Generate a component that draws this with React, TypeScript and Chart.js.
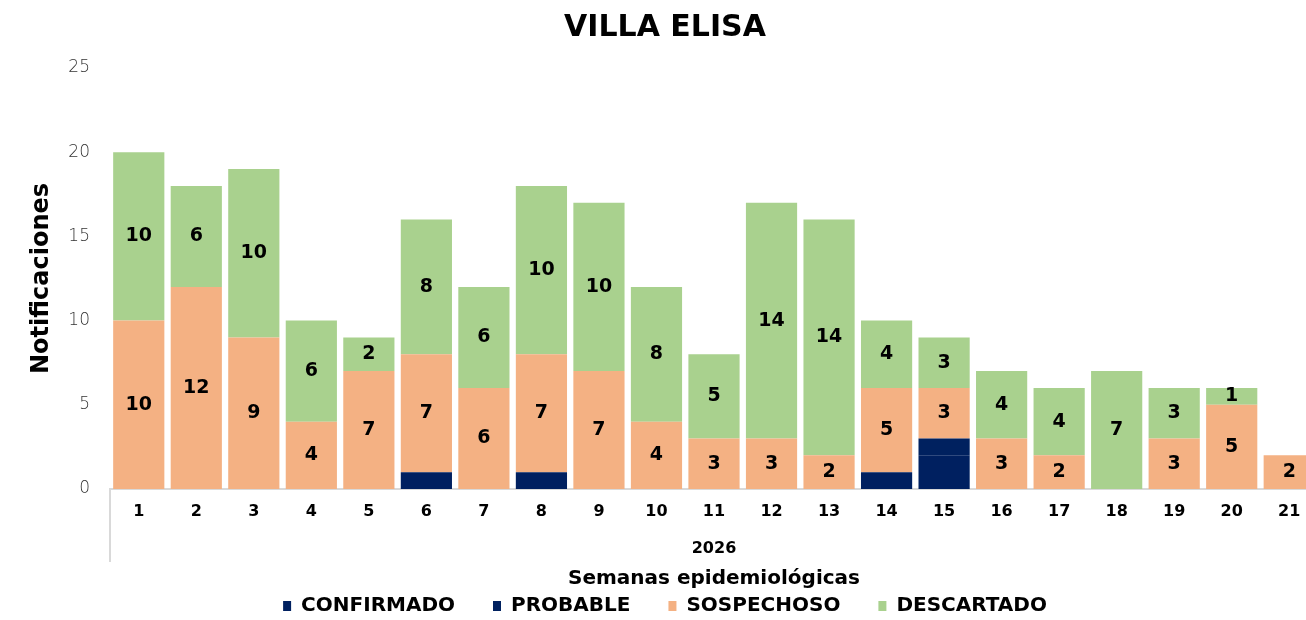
import React, { useEffect, useRef } from 'react';
import { Chart, registerables } from 'chart.js';

Chart.register(...registerables);

const FONT = '"DejaVu Sans", "Open Sans", sans-serif';

const weeks = ['1', '2', '3', '4', '5', '6', '7', '8', '9', '10', '11', '12', '13', '14', '15', '16', '17', '18', '19', '20', '21'];
const yearLabels = ['2026'];
const confirmado = [0, 0, 0, 0, 0, 1, 0, 1, 0, 0, 0, 0, 0, 1, 2, 0, 0, 0, 0, 0, 0];
const probable = [0, 0, 0, 0, 0, 0, 0, 0, 0, 0, 0, 0, 0, 0, 1, 0, 0, 0, 0, 0, 0];
const sospechoso = [10, 12, 9, 4, 7, 7, 6, 7, 7, 4, 3, 3, 2, 5, 3, 3, 2, 0, 3, 5, 2];
const descartado = [10, 6, 10, 6, 2, 8, 6, 10, 10, 8, 5, 14, 14, 4, 3, 4, 4, 7, 3, 1, 0];
const yMax = 25;
const yStep = 5;

const segLabels = {
  id: 'segLabels',
  afterDatasetsDraw(chart: any) {
    const ctx = chart.ctx;
    ctx.save();
    ctx.font = `bold 19px ${FONT}`;
    ctx.fillStyle = '#000';
    ctx.textAlign = 'center';
    ctx.textBaseline = 'middle';
    [2, 3].forEach((di) => {
      const meta = chart.getDatasetMeta(di);
      meta.data.forEach((el: any, i: number) => {
        const v = chart.data.datasets[di].data[i];
        if (!v) return;
        const p = el.getProps(['x', 'y', 'base'], true);
        ctx.fillText(String(v), p.x, (p.y + p.base) / 2);
      });
    });
    ctx.restore();
  },
};

const divider = {
  id: 'divider',
  afterDraw(chart: any) {
    const { ctx, chartArea, scales } = chart;
    const x2 = scales.x2;
    ctx.save();
    ctx.strokeStyle = '#d9d9d9';
    ctx.lineWidth = 2;
    ctx.beginPath();
    ctx.moveTo(chartArea.left, chartArea.bottom);
    ctx.lineTo(chartArea.left, x2.top + 43);
    ctx.stroke();
    ctx.restore();
  },
};

export default function App() {
  const ref = useRef<HTMLCanvasElement>(null);
  useEffect(() => {
    if (!ref.current) return;
    Chart.defaults.font.family = FONT;
    const chart = new Chart(ref.current, {
      type: 'bar',
      data: {
        labels: weeks,
        datasets: [
          { label: 'CONFIRMADO', data: confirmado, backgroundColor: '#002060' },
          { label: 'PROBABLE', data: probable, backgroundColor: '#00215F' },
          { label: 'SOSPECHOSO', data: sospechoso, backgroundColor: '#F4B183' },
          { label: 'DESCARTADO', data: descartado, backgroundColor: '#A9D18E' },
        ],
      },
      options: {
        responsive: false,
        animation: false,
        devicePixelRatio: 1,
        layout: { padding: 0 },
        datasets: { bar: { barPercentage: 0.89, categoryPercentage: 1, borderWidth: 0 } },
        plugins: {
          title: {
            display: true,
            text: 'VILLA ELISA',
            color: '#000',
            font: { size: 30, weight: 'bold' },
            padding: { top: 10, bottom: 22 },
          },
          legend: {
            position: 'bottom',
            labels: {
              boxWidth: 8,
              boxHeight: 10,
              padding: 38,
              color: '#000',
              font: { size: 20, weight: 'bold' },
            },
          },
          tooltip: { enabled: false },
        },
        scales: {
          x: {
            stacked: true,
            offset: true,
            grid: { display: false, drawTicks: false },
            border: { display: true, color: '#d9d9d9', width: 2 },
            ticks: { color: '#000', font: { size: 16, weight: 'bold' }, padding: 13.4 },
            afterFit: (s: any) => {
              s.height = 30;
            },
          },
          x2: {
            type: 'category',
            labels: yearLabels,
            position: 'bottom',
            offset: true,
            grid: { display: false, drawTicks: false },
            border: { display: false },
            ticks: { color: '#000', font: { size: 16, weight: 'bold' }, padding: 20.4 },
            title: {
              display: true,
              text: 'Semanas epidemiológicas',
              color: '#000',
              font: { size: 20, weight: 'bold' },
              padding: { top: 0, bottom: -33 },
            },
            afterFit: (s: any) => {
              s.height = 39;
            },
          },
          y: {
            stacked: true,
            min: 0,
            max: yMax,
            grid: { display: false, drawTicks: false },
            border: { display: false },
            ticks: { stepSize: yStep, color: '#333333', font: { size: 17, weight: 200 }, padding: 20 },
            title: {
              display: true,
              text: 'Notificaciones',
              color: '#000',
              font: { size: 24, weight: 'bold' },
              padding: { top: 27.6, bottom: 0 },
            },
            afterFit: (s: any) => {
              s.width = 110;
            },
          },
          yR: {
            type: 'linear',
            position: 'right',
            display: true,
            grid: { display: false, drawTicks: false },
            border: { display: false },
            ticks: { display: false },
            afterFit: (s: any) => {
              s.width = 12;
            },
          },
        },
      } as any,
      plugins: [segLabels, divider],
    });
    return () => chart.destroy();
  }, []);

  return (
    <div style={{ position: 'absolute', left: 0, top: 0, width: 1306, height: 620, overflow: 'hidden', background: '#fff' }}>
      <canvas ref={ref} width={1330} height={626} style={{ display: 'block', width: 1330, height: 626 }} />
    </div>
  );
}
